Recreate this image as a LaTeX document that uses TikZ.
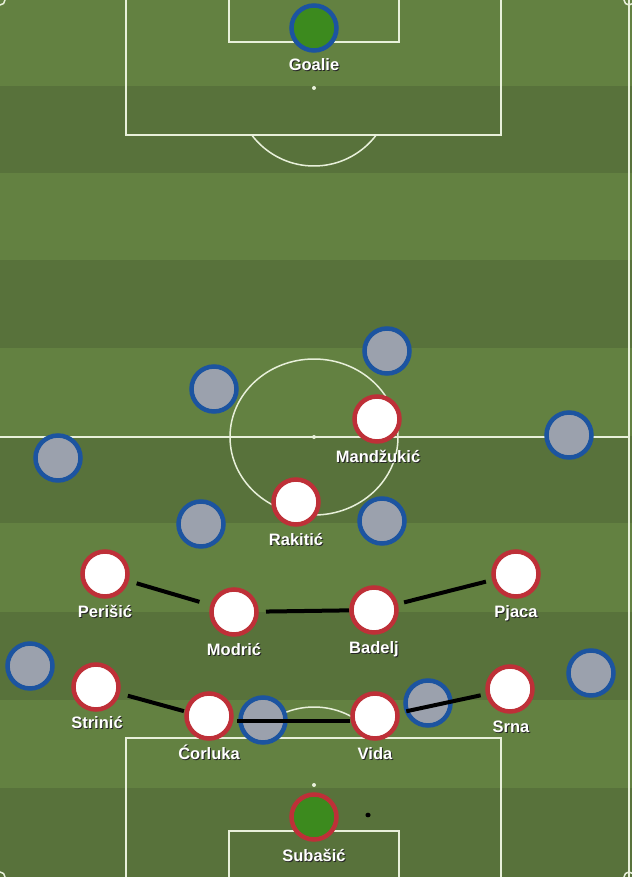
\documentclass[tikz,border=0pt]{standalone}
\usepackage{fontspec}
\setmainfont{Liberation Sans}
\usetikzlibrary{shadows}
\definecolor{lightG}{RGB}{99,129,65}
\definecolor{darkG}{RGB}{88,114,59}
\definecolor{lineC}{RGB}{232,240,218}
\definecolor{oppB}{RGB}{28,84,160}
\definecolor{oppF}{RGB}{155,161,173}
\definecolor{croR}{RGB}{190,48,56}
\definecolor{gkG}{RGB}{60,138,30}
\newcommand\shd[1]{\rlap{\kern1pt\raisebox{-1pt}{\textcolor{black!85}{#1}}}#1}
\begin{document}
\begin{tikzpicture}[x=1pt,y=-1pt,
  pitchline/.style={draw=lineC, line width=1.5pt},
  player/.style={circle, minimum size=45pt, inner sep=0pt, line width=4.5pt,
    drop shadow={opacity=0.35, shadow xshift=1pt, shadow yshift=-1pt}},
  opp/.style={player, draw=oppB, fill=oppF},
  cro/.style={player, draw=croR, fill=white},
  gk/.style={player, fill=gkG},
  lbl/.style={text=white, font=\fontsize{16.5}{19}\selectfont\bfseries, anchor=base, inner sep=0pt},
  link/.style={draw=black, line width=4pt, shorten <=5pt, shorten >=5pt}]
\useasboundingbox (0,0) rectangle (632,877);
% stripes
\fill[lightG] (0,0) rectangle (632,877);
\fill[darkG] (0,86) rectangle (632,173);
\fill[darkG] (0,260) rectangle (632,348);
\fill[darkG] (0,436) rectangle (632,523);
\fill[darkG] (0,612) rectangle (632,700);
\fill[darkG] (0,788) rectangle (632,877);
% pitch lines
\draw[pitchline] (629,0) -- (629,877);
\draw[pitchline] (0,437) -- (629,437);
\draw[pitchline] (126,0) -- (126,135) -- (501,135) -- (501,0);
\draw[pitchline] (229,0) -- (229,42) -- (399,42) -- (399,0);
\draw[pitchline] (126,877) -- (126,738) -- (501,738) -- (501,877);
\draw[pitchline] (229,877) -- (229,831) -- (399,831) -- (399,877);
\begin{scope}
  \clip (0,135.7) rectangle (632,300);
  \draw[pitchline] (314,88) circle (78pt);
\end{scope}
\begin{scope}
  \clip (0,600) rectangle (632,737.3);
  \draw[pitchline] (314,785) circle (78pt);
\end{scope}
\draw[pitchline] (314,437) ellipse (84pt and 78pt);
\fill[lineC] (314,88) circle (2pt);
\fill[lineC] (314,437) circle (2pt);
\fill[lineC] (314,785) circle (2pt);
\begin{scope}
  \clip (0,0) rectangle (632,877);
  \draw[pitchline] (0,0) circle (5pt);
  \draw[pitchline] (629,0) circle (5pt);
  \draw[pitchline] (0,877) circle (5pt);
  \draw[pitchline] (629,877) circle (5pt);
\end{scope}
% opponents
\node[gk, draw=oppB] (goalie) at (314,28) {};
\node[opp] (o1) at (387,351) {};
\node[opp] (o2) at (214,389) {};
\node[opp] (o3) at (569,435) {};
\node[opp] (o4) at (58,458) {};
\node[opp] (o5) at (201,524) {};
\node[opp] (o6) at (382,521) {};
\node[opp] (o7) at (30,666) {};
\node[opp] (o8) at (591,673) {};
\node[opp] (o9) at (263,720) {};
\node[opp] (o10) at (428,703) {};
% Croatia positions
\coordinate (pMan) at (377,419);
\coordinate (pRak) at (296,502);
\coordinate (pPer) at (105,574);
\coordinate (pMod) at (234,612);
\coordinate (pBad) at (374,610);
\coordinate (pPja) at (516,574);
\coordinate (pStr) at (96,687);
\coordinate (pCor) at (209,716);
\coordinate (pVid) at (375,716);
\coordinate (pSrn) at (510,689);
% links
\draw[link, shorten <=33pt, shorten >=36pt] (pPer) -- (pMod);
\draw[link, shorten <=32pt, shorten >=25pt] (pMod) -- (pBad);
\draw[link, shorten <=31pt, shorten >=31pt] (pBad) -- (pPja);
\draw[link, shorten <=33pt, shorten >=26pt] (pStr) -- ([yshift=-2pt]pCor);
\draw[link, shorten <=28pt, shorten >=25pt] ([yshift=-5pt]pCor) -- ([yshift=-5pt]pVid);
\draw[link, shorten <=32pt, shorten >=30pt] ([yshift=-2pt]pVid) -- (pSrn);
% Croatia players
\node[cro] (mandzukic) at (pMan) {};
\node[cro] (rakitic) at (pRak) {};
\node[cro] (perisic) at (pPer) {};
\node[cro] (modric) at (pMod) {};
\node[cro] (badelj) at (pBad) {};
\node[cro] (pjaca) at (pPja) {};
\node[cro] (strinic) at (pStr) {};
\node[cro] (corluka) at (pCor) {};
\node[cro] (vida) at (pVid) {};
\node[cro] (srna) at (pSrn) {};
\node[gk, draw=croR] (subasic) at (314,817) {};
\fill[black] (368,815) ellipse (2.6pt and 2.3pt);
% labels
\node[lbl] (lGoalie) at ([yshift=-43pt]goalie.center) {\shd{Goalie}};
\node[lbl] (lMan) at ([xshift=1pt,yshift=-43pt]mandzukic.center) {\shd{Mandžukić}};
\node[lbl] (lRak) at ([yshift=-43pt]rakitic.center) {\shd{Rakitić}};
\node[lbl] (lPer) at ([yshift=-43pt]perisic.center) {\shd{Perišić}};
\node[lbl] (lMod) at ([yshift=-43pt]modric.center) {\shd{Modrić}};
\node[lbl] (lBad) at ([yshift=-43pt]badelj.center) {\shd{Badelj}};
\node[lbl] (lPja) at ([yshift=-43pt]pjaca.center) {\shd{Pjaca}};
\node[lbl] (lStr) at ([xshift=1pt,yshift=-41pt]strinic.center) {\shd{Strinić}};
\node[lbl] (lCor) at ([yshift=-43pt]corluka.center) {\shd{Ćorluka}};
\node[lbl] (lVid) at ([yshift=-43pt]vida.center) {\shd{Vida}};
\node[lbl] (lSrn) at ([xshift=1pt,yshift=-43pt]srna.center) {\shd{Srna}};
\node[lbl] (lSub) at ([yshift=-44pt]subasic.center) {\shd{Subašić}};
\end{tikzpicture}
\end{document}
